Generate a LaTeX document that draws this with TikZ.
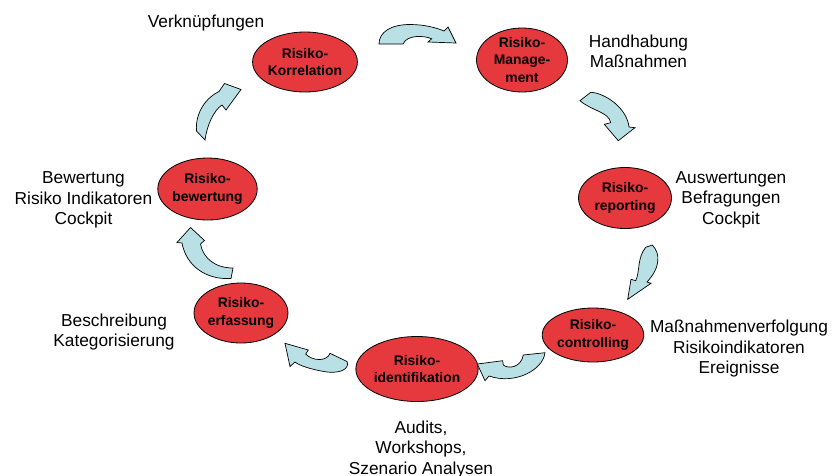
\documentclass[tikz,border=0pt]{standalone}
\usepackage{fontspec}
\setmainfont{Liberation Sans}
\usetikzlibrary{shapes.geometric}
\definecolor{riskred}{RGB}{229,57,62}
\definecolor{flowblue}{RGB}{185,224,228}
\begin{document}
\begin{tikzpicture}[x=1pt,y=-1pt,
  risk/.style={ellipse, draw=black, line width=0.8pt, fill=riskred, inner sep=0pt, align=center,
    text=black, font=\fontsize{13.9}{17.5}\selectfont\bfseries},
  lbl/.style={align=center, inner sep=0pt, text=black, font=\fontsize{17.3}{20.5}\selectfont},
  flow/.style={draw=black, line width=0.7pt, fill=flowblue, line join=miter}]
\useasboundingbox (0,0) rectangle (833,475);

% process nodes
\node[risk, minimum width=94pt, minimum height=60pt] (korr) at (305,62) {Risiko-\\Korrelation};
\node[risk, minimum width=91pt, minimum height=64pt] (mgmt) at (522,60) {Risiko-\\Manage-\\ment};
\node[risk, minimum width=93pt, minimum height=61pt] (rep) at (625,198) {Risiko-\\reporting};
\node[risk, minimum width=94pt, minimum height=54pt] (ctrl) at (593,335) {Risiko-\\controlling};
\node[risk, minimum width=110pt, minimum height=65pt] (ident) at (417,369) {Risiko-\\identifikation};
\node[risk, minimum width=92pt, minimum height=60pt] (erf) at (241,313) {Risiko-\\erfassung};
\node[risk, minimum width=91pt, minimum height=62pt] (bew) at (207.5,189) {Risiko-\\bewertung};

% labels
\node[lbl] (lkorr) at (206,23.5) {Verknüpfungen};
\node[lbl] (lmgmt) at (638.5,51.5) {Handhabung\\Maßnahmen};
\node[lbl] (lrep) at (731,199.5) {Auswertungen\\Befragungen\\Cockpit};
\node[lbl] (lctrl) at (739,349) {Maßnahmenverfolgung\\Risikoindikatoren\\Ereignisse};
\node[lbl] (lident) at (421,449.5) {Audits,\\Workshops,\\Szenario Analysen};
\node[lbl] (lerf) at (114,332) {Beschreibung\\Kategorisierung};
\node[lbl] (lbew) at (83.5,200) {Bewertung\\Risiko Indikatoren\\Cockpit};

% curved block arrows (clockwise cycle)
% Korrelation -> Management
\draw[flow] (379,44) .. controls (379,32) and (391,24.5) .. (410,24.5)
  .. controls (425,24.5) and (437,28) .. (444,31) -- (448,27) -- (456,43) -- (428,42)
  -- (431.7,38.7) .. controls (424,35.5) and (407,34.5) .. (403,44) -- cycle;
% Management -> reporting
\draw[flow] (580,100.7) -- (590.7,92.3) .. controls (605,93) and (627,108) .. (629,127)
  -- (635,127.7) -- (618.3,140.7) -- (604.3,124.3) -- (610.7,122.7)
  .. controls (609,112) and (592,111) .. (580,100.7) -- cycle;
% reporting -> controlling
\draw[flow] (645.7,247.3) -- (652.3,245) .. controls (661,254) and (660,268) .. (647,282)
  -- (651,283.3) -- (627.7,299.3) -- (631,279.3) -- (635.7,280.7)
  .. controls (640,272) and (637,258) .. (645.7,247.3) -- cycle;
% controlling -> identifikation
\draw[flow] (477.3,364) -- (502.7,360.7) -- (503.3,365)
  .. controls (508,369) and (521,368) .. (523.3,355) -- (545,352.7)
  .. controls (543,370) and (515,385) .. (489,376) -- (485,380.7) -- cycle;
% identifikation -> erfassung
\draw[flow] (285,343.3) -- (308.3,350) -- (305.7,354)
  .. controls (312,361) and (327,362) .. (330,353.3) -- (347,361.5)
  .. controls (350,369) and (340,374) .. (325,371.7)
  .. controls (312,369.5) and (300,366) .. (295,362) -- (290,366.5) -- cycle;
% erfassung -> bewertung
\draw[flow] (190.5,227.5) -- (204.5,240.5) -- (200.5,244)
  .. controls (203,258) and (215,268) .. (233,268) -- (231,278.5)
  .. controls (205,280) and (186,265) .. (182,243) -- (177,242.5) -- cycle;
% bewertung -> Korrelation
\draw[flow] (205,140) -- (196.5,131) .. controls (195,112) and (207,97) .. (219,91.5)
  -- (224.5,83.5) -- (241,89.5) -- (226,110) -- (222,105)
  .. controls (214,110) and (207,125) .. (205,140) -- cycle;
\end{tikzpicture}
\end{document}
